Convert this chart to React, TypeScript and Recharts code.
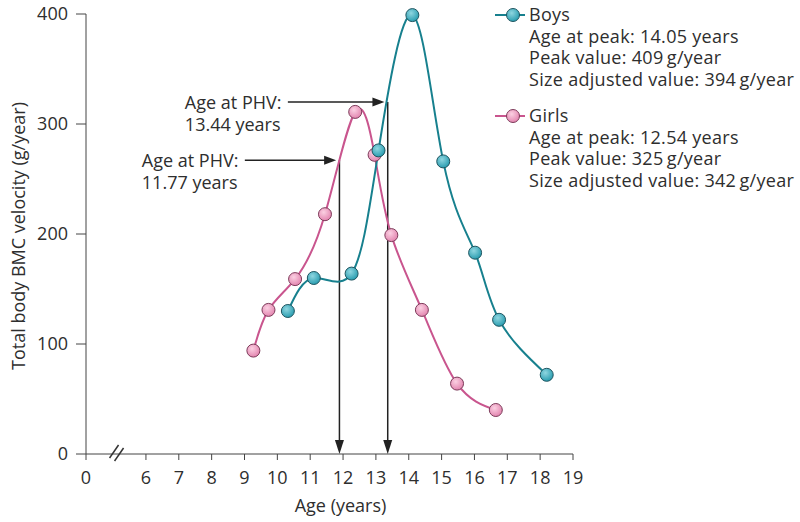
import React from "react"
import { LineChart, Line, XAxis, YAxis, ReferenceLine, ReferenceDot } from "recharts"

// ages (years) and total body BMC velocity (g/year)
const girlsAge = [9.27, 9.73, 10.54, 11.45, 12.37, 12.96, 13.47, 14.4, 15.47, 16.65]
const girlsBmc = [94, 131, 159, 218, 311, 272, 199, 131, 64, 40]
const boysAge = [10.32, 11.11, 12.26, 13.08, 14.11, 15.05, 16.02, 16.75, 18.2]
const boysBmc = [130, 160, 164, 276, 399, 266, 183, 122, 72]

const xTickAges = [0, 6, 7, 8, 9, 10, 11, 12, 13, 14, 15, 16, 17, 18, 19]
const yTicks = [0, 100, 200, 300, 400]

// PHV arrows: label, start age of horizontal arrow, vertical arrow age, level
const phvLabels = ["11.77 years", "13.44 years"]
const phvStartAge = [9.01, 10.32]
const phvAge = [11.89, 13.36]
const phvLevel = [267, 320]

const boysLegend = ["Age at peak: 14.05 years", "Peak value: 409\u2009g/year", "Size adjusted value: 394\u2009g/year"]
const girlsLegend = ["Age at peak: 12.54 years", "Peak value: 325\u2009g/year", "Size adjusted value: 342\u2009g/year"]

// broken x axis: 0 then 6..19
const X_OFFSET = 4.175
const toU = (age: number) => (age === 0 ? 0 : age - X_OFFSET)
const fromU = (u: number) => (u === 0 ? 0 : Math.round(u + X_OFFSET))

const girlsData = girlsAge.map((a, i) => ({ u: toU(a), v: girlsBmc[i] }))
const boysData = boysAge.map((a, i) => ({ u: toU(a), v: boysBmc[i] }))

const FONT = "'Open Sans', sans-serif"
const TEXT = "#2e2e2e"
const AXIS = "#444"
const TEAL = "#17808e"
const PINK = "#c9558e"

function HArrow(props: any) {
  const { x1, y1, x2, label } = props
  return (
    <g>
      <line x1={x1} y1={y1} x2={x2 - 10} y2={y1} stroke="#222" strokeWidth={1.5} />
      <polygon points={`${x2},${y1} ${x2 - 12},${y1 - 4.5} ${x2 - 12},${y1 + 4.5}`} fill="#222" />
      <text x={x1 - 103} y={y1} dominantBaseline="central" fontSize={18} fill={TEXT} fontFamily={FONT}>
        Age at PHV:
      </text>
      <text x={x1 - 103} y={y1 + 21.7} dominantBaseline="central" fontSize={18} fill={TEXT} fontFamily={FONT}>
        {label}
      </text>
    </g>
  )
}

function VArrow(props: any) {
  const { x1, y1, y2 } = props
  const top = Math.min(y1, y2)
  const bot = Math.max(y1, y2)
  return (
    <g>
      <line x1={x1} y1={top} x2={x1} y2={bot - 10} stroke="#222" strokeWidth={1.5} />
      <polygon points={`${x1},${bot} ${x1 - 4.5},${bot - 14} ${x1 + 4.5},${bot - 14}`} fill="#222" />
    </g>
  )
}

function AxisBreak(props: any) {
  const { cx, cy } = props
  return (
    <g stroke="#333" strokeWidth={1.5}>
      <line x1={cx - 7} y1={cy + 4} x2={cx + 2} y2={cy - 9} />
      <line x1={cx - 2} y1={cy + 7} x2={cx + 7} y2={cy - 6} />
    </g>
  )
}

function LegendMarker({ color, grad }: { color: string; grad: string }) {
  return (
    <svg width={34} height={22} style={{ display: "block", flex: "none" }}>
      <defs>
        <radialGradient id={grad + "L"} cx="40%" cy="35%" r="65%">
          <stop offset="0%" stopColor={color === TEAL ? "#8fd6e0" : "#fbd0e2"} />
          <stop offset="100%" stopColor={color === TEAL ? "#2a9db0" : "#e386b0"} />
        </radialGradient>
      </defs>
      <line x1={0} y1={11} x2={30} y2={11} stroke={color} strokeWidth={2} />
      <circle cx={18} cy={11} r={6.5} fill={`url(#${grad}L)`} stroke={color === TEAL ? "#1f5560" : "#7d3b5a"} strokeWidth={1} />
    </svg>
  )
}

function LegendGroup({ name, lines, color, grad }: { name: string; lines: string[]; color: string; grad: string }) {
  return (
    <div>
      <div style={{ display: "flex", alignItems: "center", height: 21.7 }}>
        <LegendMarker color={color} grad={grad} />
        <span>{name}</span>
      </div>
      {lines.map((l) => (
        <div key={l} style={{ paddingLeft: 34, height: 21.7, lineHeight: "21.7px", whiteSpace: "nowrap" }}>
          {l}
        </div>
      ))}
    </div>
  )
}

export default function App() {
  return (
    <div style={{ position: "absolute", left: 0, top: 0, width: 800, height: 522, background: "#fff", fontFamily: FONT, color: TEXT }}>
      <LineChart width={800} height={522} margin={{ top: 14, right: 227, bottom: 0, left: 26 }}>
        <defs>
          <radialGradient id="boysDot" cx="40%" cy="35%" r="65%">
            <stop offset="0%" stopColor="#8fd6e0" />
            <stop offset="100%" stopColor="#2a9db0" />
          </radialGradient>
          <radialGradient id="girlsDot" cx="40%" cy="35%" r="65%">
            <stop offset="0%" stopColor="#fbd0e2" />
            <stop offset="100%" stopColor="#e386b0" />
          </radialGradient>
        </defs>
        <XAxis
          type="number"
          dataKey="u"
          domain={[0, toU(19)]}
          ticks={xTickAges.map(toU)}
          tickFormatter={(u: number) => String(fromU(u))}
          allowDataOverflow
          height={68}
          stroke={AXIS}
          tickSize={6}
          tickMargin={11}
          tick={{ fill: TEXT, fontSize: 18, fontFamily: FONT }}
          label={(p: any) => {
            const vb = p.viewBox
            return (
              <text x={vb.x + vb.width / 2 + 11} y={vb.y + 51} textAnchor="middle" dominantBaseline="central" fontSize={18} fill={TEXT} fontFamily={FONT}>
                Age (years)
              </text>
            )
          }}
        />
        <YAxis
          type="number"
          domain={[0, 400]}
          ticks={yTicks}
          width={60}
          stroke={AXIS}
          tickSize={10}
          tickMargin={8}
          tick={{ fill: TEXT, fontSize: 18, fontFamily: FONT }}
          label={(p: any) => {
            const vb = p.viewBox
            const cx = vb.x - 8
            const cy = vb.y + vb.height / 2 + 2
            return (
              <text x={cx} y={cy} transform={`rotate(-90, ${cx}, ${cy})`} textAnchor="middle" dominantBaseline="central" fontSize={18} fill={TEXT} fontFamily={FONT}>
                Total body BMC velocity (g/year)
              </text>
            )
          }}
        />
        <ReferenceDot x={0.93} y={0} r={0} ifOverflow="visible" shape={(p: any) => <AxisBreak {...p} />} />
        {phvAge.map((a, i) => (
          <ReferenceLine
            key={"v" + i}
            segment={[{ x: toU(a), y: phvLevel[i] }, { x: toU(a), y: 0 }]}
            shape={(p: any) => <VArrow {...p} />}
          />
        ))}
        {phvAge.map((a, i) => (
          <ReferenceLine
            key={"h" + i}
            segment={[{ x: toU(phvStartAge[i]), y: phvLevel[i] }, { x: toU(a) - 0.1, y: phvLevel[i] }]}
            shape={(p: any) => <HArrow {...p} label={phvLabels[i]} />}
          />
        ))}
        <Line
          data={girlsData}
          dataKey="v"
          type="natural"
          stroke={PINK}
          strokeWidth={2}
          dot={{ r: 6.5, fill: "url(#girlsDot)", stroke: "#7d3b5a", strokeWidth: 1 }}
          isAnimationActive={false}
        />
        <Line
          data={boysData}
          dataKey="v"
          type="natural"
          stroke={TEAL}
          strokeWidth={2}
          dot={{ r: 6.5, fill: "url(#boysDot)", stroke: "#1f5560", strokeWidth: 1 }}
          isAnimationActive={false}
        />
      </LineChart>
      <div style={{ position: "absolute", left: 495, top: 4, fontSize: 18, letterSpacing: 0.3, lineHeight: "21.7px" }}>
        <LegendGroup name="Boys" lines={boysLegend} color={TEAL} grad="boys" />
        <div style={{ height: 14.3 }} />
        <LegendGroup name="Girls" lines={girlsLegend} color={PINK} grad="girls" />
      </div>
    </div>
  )
}
